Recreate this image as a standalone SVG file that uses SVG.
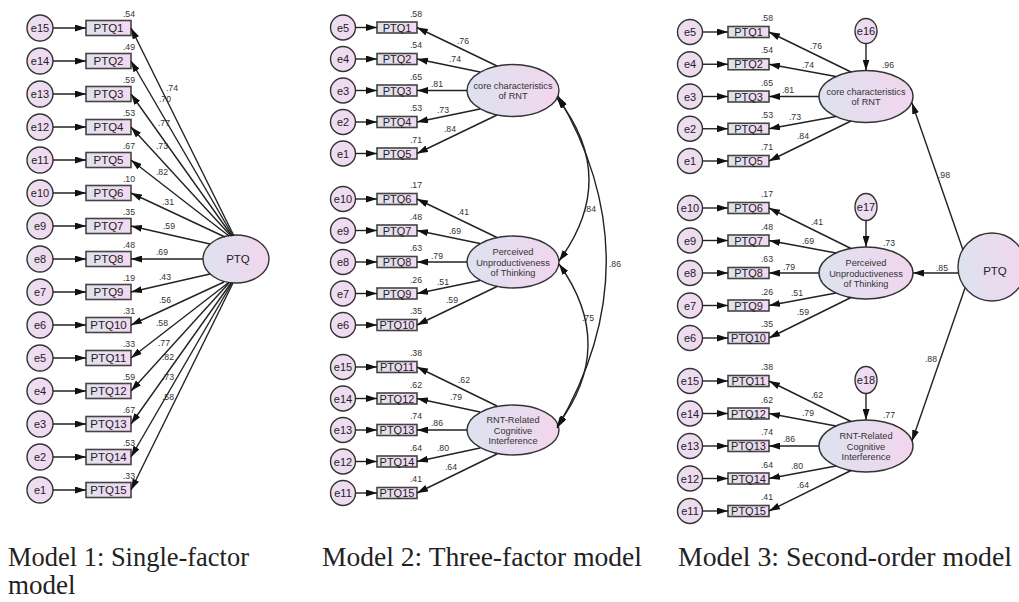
<svg xmlns="http://www.w3.org/2000/svg" width="1019" height="602" viewBox="0 0 1019 602">
<defs>
<linearGradient id="gbox" x1="0" y1="0" x2="1" y2="0"><stop offset="0" stop-color="#dfe2ee"/><stop offset="1" stop-color="#f4d8f1"/></linearGradient>
<linearGradient id="gell" x1="0" y1="0" x2="1" y2="0"><stop offset="0" stop-color="#dde2ef"/><stop offset="1" stop-color="#f2d6ee"/></linearGradient>
<linearGradient id="gcir" x1="0" y1="0" x2="1" y2="0"><stop offset="0" stop-color="#e9e0f2"/><stop offset="1" stop-color="#f2d8ef"/></linearGradient>
<marker id="ah" viewBox="0 0 11 7" refX="11" refY="3.5" markerWidth="11" markerHeight="7" markerUnits="userSpaceOnUse" orient="auto-start-reverse"><path d="M0,0 L11,3.5 L0,7 z" fill="#111"/></marker>
<style>
.c{fill:url(#gcir);stroke:#333;stroke-width:1.4}
.b{fill:url(#gbox);stroke:#444;stroke-width:1.6}
.el{fill:url(#gell);stroke:#333;stroke-width:1.4}
.tb{font-family:"Liberation Sans",Arial,sans-serif;fill:#222;text-anchor:middle;font-size:11.5px}
.te{font-family:"Liberation Sans",Arial,sans-serif;fill:#222;text-anchor:middle;font-size:11px}
.tl{font-family:"Liberation Sans",Arial,sans-serif;fill:#333;text-anchor:middle;font-size:9.2px}
.n{font-family:"Liberation Sans",Arial,sans-serif;fill:#333;text-anchor:middle;font-size:8.7px}
.r{font-family:"Liberation Sans",Arial,sans-serif;fill:#333;text-anchor:end;font-size:8.7px}
.cap{font-family:"Liberation Serif","Times New Roman",serif;fill:#222;font-size:27px}
.ln{stroke:#222;stroke-width:1.4;fill:none;marker-end:url(#ah)}
.dl{stroke:#222;stroke-width:1.4;fill:none;marker-end:url(#ah);marker-start:url(#ah)}
</style>
</defs>
<rect width="1019" height="602" fill="#fff"/>

<!-- ================= Model 1 ================= -->
<g id="m1-e15"><circle class="c" cx="40" cy="28" r="13"/><text class="te" x="40" y="32">e15</text></g>
<g id="m1-e14"><circle class="c" cx="40" cy="61" r="13"/><text class="te" x="40" y="65">e14</text></g>
<g id="m1-e13"><circle class="c" cx="40" cy="94" r="13"/><text class="te" x="40" y="98">e13</text></g>
<g id="m1-e12"><circle class="c" cx="40" cy="127" r="13"/><text class="te" x="40" y="131">e12</text></g>
<g id="m1-e11"><circle class="c" cx="40" cy="160" r="13"/><text class="te" x="40" y="164">e11</text></g>
<g id="m1-e10"><circle class="c" cx="40" cy="193" r="13"/><text class="te" x="40" y="197">e10</text></g>
<g id="m1-e9"><circle class="c" cx="40" cy="226" r="13"/><text class="te" x="40" y="230">e9</text></g>
<g id="m1-e8"><circle class="c" cx="40" cy="259" r="13"/><text class="te" x="40" y="263">e8</text></g>
<g id="m1-e7"><circle class="c" cx="40" cy="292" r="13"/><text class="te" x="40" y="296">e7</text></g>
<g id="m1-e6"><circle class="c" cx="40" cy="325" r="13"/><text class="te" x="40" y="329">e6</text></g>
<g id="m1-e5"><circle class="c" cx="40" cy="358" r="13"/><text class="te" x="40" y="362">e5</text></g>
<g id="m1-e4"><circle class="c" cx="40" cy="391" r="13"/><text class="te" x="40" y="395">e4</text></g>
<g id="m1-e3"><circle class="c" cx="40" cy="424" r="13"/><text class="te" x="40" y="428">e3</text></g>
<g id="m1-e2"><circle class="c" cx="40" cy="457" r="13"/><text class="te" x="40" y="461">e2</text></g>
<g id="m1-e1"><circle class="c" cx="40" cy="490" r="13"/><text class="te" x="40" y="494">e1</text></g>

<g id="m1-ptq1"><rect class="b" x="86" y="20.5" width="45" height="15"/><text class="tb" x="108.5" y="32">PTQ1</text><text class="r" x="135" y="16.5">.54</text></g>
<g id="m1-ptq2"><rect class="b" x="86" y="53.5" width="45" height="15"/><text class="tb" x="108.5" y="65">PTQ2</text><text class="r" x="135" y="49.5">.49</text></g>
<g id="m1-ptq3"><rect class="b" x="86" y="86.5" width="45" height="15"/><text class="tb" x="108.5" y="98">PTQ3</text><text class="r" x="135" y="82.5">.59</text></g>
<g id="m1-ptq4"><rect class="b" x="86" y="119.5" width="45" height="15"/><text class="tb" x="108.5" y="131">PTQ4</text><text class="r" x="135" y="115.5">.53</text></g>
<g id="m1-ptq5"><rect class="b" x="86" y="152.5" width="45" height="15"/><text class="tb" x="108.5" y="164">PTQ5</text><text class="r" x="135" y="148.5">.67</text></g>
<g id="m1-ptq6"><rect class="b" x="86" y="185.5" width="45" height="15"/><text class="tb" x="108.5" y="197">PTQ6</text><text class="r" x="135" y="181.5">.10</text></g>
<g id="m1-ptq7"><rect class="b" x="86" y="218.5" width="45" height="15"/><text class="tb" x="108.5" y="230">PTQ7</text><text class="r" x="135" y="214.5">.35</text></g>
<g id="m1-ptq8"><rect class="b" x="86" y="251.5" width="45" height="15"/><text class="tb" x="108.5" y="263">PTQ8</text><text class="r" x="135" y="247.5">.48</text></g>
<g id="m1-ptq9"><rect class="b" x="86" y="284.5" width="45" height="15"/><text class="tb" x="108.5" y="296">PTQ9</text><text class="r" x="135" y="280.5">.19</text></g>
<g id="m1-ptq10"><rect class="b" x="86" y="317.5" width="45" height="15"/><text class="tb" x="108.5" y="329">PTQ10</text><text class="r" x="135" y="313.5">.31</text></g>
<g id="m1-ptq11"><rect class="b" x="86" y="350.5" width="45" height="15"/><text class="tb" x="108.5" y="362">PTQ11</text><text class="r" x="135" y="346.5">.33</text></g>
<g id="m1-ptq12"><rect class="b" x="86" y="383.5" width="45" height="15"/><text class="tb" x="108.5" y="395">PTQ12</text><text class="r" x="135" y="379.5">.59</text></g>
<g id="m1-ptq13"><rect class="b" x="86" y="416.5" width="45" height="15"/><text class="tb" x="108.5" y="428">PTQ13</text><text class="r" x="135" y="412.5">.67</text></g>
<g id="m1-ptq14"><rect class="b" x="86" y="449.5" width="45" height="15"/><text class="tb" x="108.5" y="461">PTQ14</text><text class="r" x="135" y="445.5">.53</text></g>
<g id="m1-ptq15"><rect class="b" x="86" y="482.5" width="45" height="15"/><text class="tb" x="108.5" y="494">PTQ15</text><text class="r" x="135" y="478.5">.33</text></g>

<g id="m1-PTQ"><ellipse class="el" cx="236" cy="259" rx="33" ry="24"/><text class="tb" x="238" y="263">PTQ</text></g>

<!-- ================= Model 2 ================= -->
<g id="m2-e5"><circle class="c" cx="343" cy="27.5" r="12.5"/><text class="te" x="343" y="31.5">e5</text></g>
<g id="m2-e4"><circle class="c" cx="343" cy="59" r="12.5"/><text class="te" x="343" y="63">e4</text></g>
<g id="m2-e3"><circle class="c" cx="343" cy="90.5" r="12.5"/><text class="te" x="343" y="94.5">e3</text></g>
<g id="m2-e2"><circle class="c" cx="343" cy="122" r="12.5"/><text class="te" x="343" y="126">e2</text></g>
<g id="m2-e1"><circle class="c" cx="343" cy="153.5" r="12.5"/><text class="te" x="343" y="157.5">e1</text></g>
<g id="m2-e10"><circle class="c" cx="343" cy="199" r="12.5"/><text class="te" x="343" y="203">e10</text></g>
<g id="m2-e9"><circle class="c" cx="343" cy="230.5" r="12.5"/><text class="te" x="343" y="234.5">e9</text></g>
<g id="m2-e8"><circle class="c" cx="343" cy="262" r="12.5"/><text class="te" x="343" y="266">e8</text></g>
<g id="m2-e7"><circle class="c" cx="343" cy="293.5" r="12.5"/><text class="te" x="343" y="297.5">e7</text></g>
<g id="m2-e6"><circle class="c" cx="343" cy="325" r="12.5"/><text class="te" x="343" y="329">e6</text></g>
<g id="m2-e15"><circle class="c" cx="343" cy="367" r="12.5"/><text class="te" x="343" y="371">e15</text></g>
<g id="m2-e14"><circle class="c" cx="343" cy="398.5" r="12.5"/><text class="te" x="343" y="402.5">e14</text></g>
<g id="m2-e13"><circle class="c" cx="343" cy="430" r="12.5"/><text class="te" x="343" y="434">e13</text></g>
<g id="m2-e12"><circle class="c" cx="343" cy="461.5" r="12.5"/><text class="te" x="343" y="465.5">e12</text></g>
<g id="m2-e11"><circle class="c" cx="343" cy="493" r="12.5"/><text class="te" x="343" y="497">e11</text></g>

<g id="m2-ptq1"><rect class="b" x="377" y="22" width="40" height="11"/><text class="te" x="397" y="31.5">PTQ1</text><text class="r" x="422" y="16.5">.58</text></g>
<g id="m2-ptq2"><rect class="b" x="377" y="53.5" width="40" height="11"/><text class="te" x="397" y="63">PTQ2</text><text class="r" x="422" y="48">.54</text></g>
<g id="m2-ptq3"><rect class="b" x="377" y="85" width="40" height="11"/><text class="te" x="397" y="94.5">PTQ3</text><text class="r" x="422" y="79.5">.65</text></g>
<g id="m2-ptq4"><rect class="b" x="377" y="116.5" width="40" height="11"/><text class="te" x="397" y="126">PTQ4</text><text class="r" x="422" y="111">.53</text></g>
<g id="m2-ptq5"><rect class="b" x="377" y="148" width="40" height="11"/><text class="te" x="397" y="157.5">PTQ5</text><text class="r" x="422" y="142.5">.71</text></g>
<g id="m2-ptq6"><rect class="b" x="377" y="193.5" width="40" height="11"/><text class="te" x="397" y="203">PTQ6</text><text class="r" x="422" y="188">.17</text></g>
<g id="m2-ptq7"><rect class="b" x="377" y="225" width="40" height="11"/><text class="te" x="397" y="234.5">PTQ7</text><text class="r" x="422" y="219.5">.48</text></g>
<g id="m2-ptq8"><rect class="b" x="377" y="256.5" width="40" height="11"/><text class="te" x="397" y="266">PTQ8</text><text class="r" x="422" y="251">.63</text></g>
<g id="m2-ptq9"><rect class="b" x="377" y="288" width="40" height="11"/><text class="te" x="397" y="297.5">PTQ9</text><text class="r" x="422" y="282.5">.26</text></g>
<g id="m2-ptq10"><rect class="b" x="377" y="319.5" width="40" height="11"/><text class="te" x="397" y="329">PTQ10</text><text class="r" x="422" y="314">.35</text></g>
<g id="m2-ptq11"><rect class="b" x="377" y="361.5" width="40" height="11"/><text class="te" x="397" y="371">PTQ11</text><text class="r" x="422" y="356">.38</text></g>
<g id="m2-ptq12"><rect class="b" x="377" y="393" width="40" height="11"/><text class="te" x="397" y="402.5">PTQ12</text><text class="r" x="422" y="387.5">.62</text></g>
<g id="m2-ptq13"><rect class="b" x="377" y="424.5" width="40" height="11"/><text class="te" x="397" y="434">PTQ13</text><text class="r" x="422" y="419">.74</text></g>
<g id="m2-ptq14"><rect class="b" x="377" y="456" width="40" height="11"/><text class="te" x="397" y="465.5">PTQ14</text><text class="r" x="422" y="450.5">.64</text></g>
<g id="m2-ptq15"><rect class="b" x="377" y="487.5" width="40" height="11"/><text class="te" x="397" y="497">PTQ15</text><text class="r" x="422" y="482">.41</text></g>

<g id="m2-core"><ellipse class="el" cx="513" cy="90.5" rx="46" ry="26"/><text class="tl" x="513" y="88.5">core characteristics</text><text class="tl" x="513" y="99">of RNT</text></g>
<g id="m2-perceived"><ellipse class="el" cx="513" cy="262" rx="46" ry="26"/><text class="tl" x="513" y="255">Perceived</text><text class="tl" x="513" y="265.5">Unproductiveness</text><text class="tl" x="513" y="276">of Thinking</text></g>
<g id="m2-rnt"><ellipse class="el" cx="513" cy="430" rx="46" ry="25"/><text class="tl" x="513" y="423">RNT-Related</text><text class="tl" x="513" y="433.5">Cognitive</text><text class="tl" x="513" y="444">Interference</text></g>

<!-- ================= Model 3 ================= -->
<g id="m3-e5"><circle class="c" cx="690" cy="32" r="12.5"/><text class="te" x="690" y="36">e5</text></g>
<g id="m3-e4"><circle class="c" cx="690" cy="64.25" r="12.5"/><text class="te" x="690" y="68.25">e4</text></g>
<g id="m3-e3"><circle class="c" cx="690" cy="96.5" r="12.5"/><text class="te" x="690" y="100.5">e3</text></g>
<g id="m3-e2"><circle class="c" cx="690" cy="128.75" r="12.5"/><text class="te" x="690" y="132.75">e2</text></g>
<g id="m3-e1"><circle class="c" cx="690" cy="161" r="12.5"/><text class="te" x="690" y="165">e1</text></g>
<g id="m3-e10"><circle class="c" cx="690" cy="208" r="12.5"/><text class="te" x="690" y="212">e10</text></g>
<g id="m3-e9"><circle class="c" cx="690" cy="240.5" r="12.5"/><text class="te" x="690" y="244.5">e9</text></g>
<g id="m3-e8"><circle class="c" cx="690" cy="273" r="12.5"/><text class="te" x="690" y="277">e8</text></g>
<g id="m3-e7"><circle class="c" cx="690" cy="305.5" r="12.5"/><text class="te" x="690" y="309.5">e7</text></g>
<g id="m3-e6"><circle class="c" cx="690" cy="338" r="12.5"/><text class="te" x="690" y="342">e6</text></g>
<g id="m3-e15"><circle class="c" cx="690" cy="381" r="12.5"/><text class="te" x="690" y="385">e15</text></g>
<g id="m3-e14"><circle class="c" cx="690" cy="413.5" r="12.5"/><text class="te" x="690" y="417.5">e14</text></g>
<g id="m3-e13"><circle class="c" cx="690" cy="446" r="12.5"/><text class="te" x="690" y="450">e13</text></g>
<g id="m3-e12"><circle class="c" cx="690" cy="478.5" r="12.5"/><text class="te" x="690" y="482.5">e12</text></g>
<g id="m3-e11"><circle class="c" cx="690" cy="511" r="12.5"/><text class="te" x="690" y="515">e11</text></g>

<g id="m3-ptq1"><rect class="b" x="728" y="26.5" width="41" height="11"/><text class="te" x="748.5" y="36">PTQ1</text><text class="r" x="773" y="21">.58</text></g>
<g id="m3-ptq2"><rect class="b" x="728" y="58.75" width="41" height="11"/><text class="te" x="748.5" y="68.25">PTQ2</text><text class="r" x="773" y="53.25">.54</text></g>
<g id="m3-ptq3"><rect class="b" x="728" y="91" width="41" height="11"/><text class="te" x="748.5" y="100.5">PTQ3</text><text class="r" x="773" y="85.5">.65</text></g>
<g id="m3-ptq4"><rect class="b" x="728" y="123.25" width="41" height="11"/><text class="te" x="748.5" y="132.75">PTQ4</text><text class="r" x="773" y="117.75">.53</text></g>
<g id="m3-ptq5"><rect class="b" x="728" y="155.5" width="41" height="11"/><text class="te" x="748.5" y="165">PTQ5</text><text class="r" x="773" y="150">.71</text></g>
<g id="m3-ptq6"><rect class="b" x="728" y="202.5" width="41" height="11"/><text class="te" x="748.5" y="212">PTQ6</text><text class="r" x="773" y="197">.17</text></g>
<g id="m3-ptq7"><rect class="b" x="728" y="235" width="41" height="11"/><text class="te" x="748.5" y="244.5">PTQ7</text><text class="r" x="773" y="229.5">.48</text></g>
<g id="m3-ptq8"><rect class="b" x="728" y="267.5" width="41" height="11"/><text class="te" x="748.5" y="277">PTQ8</text><text class="r" x="773" y="262">.63</text></g>
<g id="m3-ptq9"><rect class="b" x="728" y="300" width="41" height="11"/><text class="te" x="748.5" y="309.5">PTQ9</text><text class="r" x="773" y="294.5">.26</text></g>
<g id="m3-ptq10"><rect class="b" x="728" y="332.5" width="41" height="11"/><text class="te" x="748.5" y="342">PTQ10</text><text class="r" x="773" y="327">.35</text></g>
<g id="m3-ptq11"><rect class="b" x="728" y="375.5" width="41" height="11"/><text class="te" x="748.5" y="385">PTQ11</text><text class="r" x="773" y="370">.38</text></g>
<g id="m3-ptq12"><rect class="b" x="728" y="408" width="41" height="11"/><text class="te" x="748.5" y="417.5">PTQ12</text><text class="r" x="773" y="402.5">.62</text></g>
<g id="m3-ptq13"><rect class="b" x="728" y="440.5" width="41" height="11"/><text class="te" x="748.5" y="450">PTQ13</text><text class="r" x="773" y="435">.74</text></g>
<g id="m3-ptq14"><rect class="b" x="728" y="473" width="41" height="11"/><text class="te" x="748.5" y="482.5">PTQ14</text><text class="r" x="773" y="467.5">.64</text></g>
<g id="m3-ptq15"><rect class="b" x="728" y="505.5" width="41" height="11"/><text class="te" x="748.5" y="515">PTQ15</text><text class="r" x="773" y="500">.41</text></g>

<g id="m3-core"><ellipse class="el" cx="866" cy="96.5" rx="47" ry="26"/><text class="tl" x="866" y="94.5">core characteristics</text><text class="tl" x="866" y="105">of RNT</text><text class="n" x="888" y="68">.96</text></g>
<g id="m3-perceived"><ellipse class="el" cx="866" cy="273" rx="47" ry="26"/><text class="tl" x="866" y="266">Perceived</text><text class="tl" x="866" y="276.5">Unproductiveness</text><text class="tl" x="866" y="287">of Thinking</text><text class="n" x="889" y="246">.73</text></g>
<g id="m3-rnt"><ellipse class="el" cx="866" cy="446" rx="47" ry="26"/><text class="tl" x="866" y="439">RNT-Related</text><text class="tl" x="866" y="449.5">Cognitive</text><text class="tl" x="866" y="460">Interference</text><text class="n" x="889" y="418">.77</text></g>
<g id="m3-e16"><ellipse class="c" cx="866" cy="31" rx="11" ry="12.5"/><text class="te" x="866" y="35">e16</text></g>
<g id="m3-e17"><ellipse class="c" cx="866" cy="207" rx="11" ry="13.5"/><text class="te" x="866" y="211">e17</text></g>
<g id="m3-e18"><ellipse class="c" cx="866" cy="380" rx="11" ry="13.5"/><text class="te" x="866" y="384">e18</text></g>
<g id="m3-PTQ"><ellipse class="el" cx="992" cy="267" rx="34" ry="34"/><text class="tb" x="995" y="275">PTQ</text></g>

<!-- ================= Connectors ================= -->
<g id="connectors">
<line class="ln" x1="53" y1="28" x2="86" y2="28"/><line class="ln" x1="53" y1="61" x2="86" y2="61"/>
<line class="ln" x1="53" y1="94" x2="86" y2="94"/><line class="ln" x1="53" y1="127" x2="86" y2="127"/>
<line class="ln" x1="53" y1="160" x2="86" y2="160"/><line class="ln" x1="53" y1="193" x2="86" y2="193"/>
<line class="ln" x1="53" y1="226" x2="86" y2="226"/><line class="ln" x1="53" y1="259" x2="86" y2="259"/>
<line class="ln" x1="53" y1="292" x2="86" y2="292"/><line class="ln" x1="53" y1="325" x2="86" y2="325"/>
<line class="ln" x1="53" y1="358" x2="86" y2="358"/><line class="ln" x1="53" y1="391" x2="86" y2="391"/>
<line class="ln" x1="53" y1="424" x2="86" y2="424"/><line class="ln" x1="53" y1="457" x2="86" y2="457"/>
<line class="ln" x1="53" y1="490" x2="86" y2="490"/>
<line class="ln" x1="234" y1="236" x2="131" y2="28"/>
<line class="ln" x1="233" y1="236" x2="131" y2="61"/>
<line class="ln" x1="232" y1="236" x2="131" y2="94"/>
<line class="ln" x1="231" y1="236" x2="131" y2="127"/>
<line class="ln" x1="229" y1="236" x2="131" y2="160"/>
<line class="ln" x1="225" y1="237" x2="131" y2="193"/>
<line class="ln" x1="210" y1="244" x2="131" y2="226"/>
<line class="ln" x1="203" y1="259" x2="131" y2="259"/>
<line class="ln" x1="210" y1="274" x2="131" y2="292"/>
<line class="ln" x1="224" y1="282" x2="131" y2="325"/>
<line class="ln" x1="228" y1="283" x2="131" y2="358"/>
<line class="ln" x1="229" y1="283" x2="131" y2="391"/>
<line class="ln" x1="231" y1="283" x2="131" y2="424"/>
<line class="ln" x1="232" y1="283" x2="131" y2="457"/>
<line class="ln" x1="233" y1="283" x2="131" y2="490"/>
<text class="n" x="172" y="91">.74</text><text class="n" x="165" y="102">.70</text>
<text class="n" x="164" y="126">.77</text><text class="n" x="162" y="149">.73</text>
<text class="n" x="162" y="175">.82</text><text class="n" x="168" y="205">.31</text>
<text class="n" x="169" y="229">.59</text><text class="n" x="162" y="255">.69</text>
<text class="n" x="165" y="280">.43</text><text class="n" x="165" y="303">.56</text>
<text class="n" x="162" y="326">.58</text><text class="n" x="164" y="346">.77</text>
<text class="n" x="168" y="360">.82</text><text class="n" x="168" y="380">.73</text>
<text class="n" x="168" y="400">.58</text>

<line class="ln" x1="355.5" y1="27.5" x2="377" y2="27.5"/><line class="ln" x1="355.5" y1="59" x2="377" y2="59"/>
<line class="ln" x1="355.5" y1="90.5" x2="377" y2="90.5"/><line class="ln" x1="355.5" y1="122" x2="377" y2="122"/>
<line class="ln" x1="355.5" y1="153.5" x2="377" y2="153.5"/>
<line class="ln" x1="355.5" y1="199" x2="377" y2="199"/><line class="ln" x1="355.5" y1="230.5" x2="377" y2="230.5"/>
<line class="ln" x1="355.5" y1="262" x2="377" y2="262"/><line class="ln" x1="355.5" y1="293.5" x2="377" y2="293.5"/>
<line class="ln" x1="355.5" y1="325" x2="377" y2="325"/>
<line class="ln" x1="355.5" y1="367" x2="377" y2="367"/><line class="ln" x1="355.5" y1="398.5" x2="377" y2="398.5"/>
<line class="ln" x1="355.5" y1="430" x2="377" y2="430"/><line class="ln" x1="355.5" y1="461.5" x2="377" y2="461.5"/>
<line class="ln" x1="355.5" y1="493" x2="377" y2="493"/>
<line class="ln" x1="497" y1="66" x2="417" y2="27.5"/>
<line class="ln" x1="480" y1="72" x2="417" y2="59"/>
<line class="ln" x1="467" y1="90.5" x2="417" y2="90.5"/>
<line class="ln" x1="480" y1="109" x2="417" y2="122"/>
<line class="ln" x1="497" y1="115" x2="417" y2="153.5"/>
<line class="ln" x1="497" y1="237.5" x2="417" y2="199"/>
<line class="ln" x1="480" y1="243.5" x2="417" y2="230.5"/>
<line class="ln" x1="467" y1="262" x2="417" y2="262"/>
<line class="ln" x1="480" y1="280.5" x2="417" y2="293.5"/>
<line class="ln" x1="497" y1="286.5" x2="417" y2="325"/>
<line class="ln" x1="497" y1="406" x2="417" y2="367"/>
<line class="ln" x1="480" y1="412" x2="417" y2="398.5"/>
<line class="ln" x1="467" y1="430" x2="417" y2="430"/>
<line class="ln" x1="480" y1="448" x2="417" y2="461.5"/>
<line class="ln" x1="497" y1="454" x2="417" y2="493"/>
<text class="n" x="463" y="43.5">.76</text><text class="n" x="455" y="61.5">.74</text>
<text class="n" x="437" y="86.5">.81</text><text class="n" x="443" y="112.5">.73</text>
<text class="n" x="450" y="131.5">.84</text>
<text class="n" x="463" y="215">.41</text><text class="n" x="455" y="234">.69</text>
<text class="n" x="437" y="259">.79</text><text class="n" x="443" y="285">.51</text>
<text class="n" x="452" y="303">.59</text>
<text class="n" x="464" y="383">.62</text><text class="n" x="456" y="400">.79</text>
<text class="n" x="437" y="426">.86</text><text class="n" x="443" y="451">.80</text>
<text class="n" x="451" y="470">.64</text>
<path class="dl" d="M557,98 Q620,178 559,261"/>
<path class="dl" d="M559,264 Q618,346 557,426"/>
<path class="dl" d="M558,96 Q655,262 557,428"/>
<text class="n" x="590" y="212">.84</text>
<text class="n" x="615" y="267">.86</text>
<text class="n" x="588" y="321">.75</text>

<line class="ln" x1="702.5" y1="32" x2="728" y2="32"/><line class="ln" x1="702.5" y1="64.25" x2="728" y2="64.25"/>
<line class="ln" x1="702.5" y1="96.5" x2="728" y2="96.5"/><line class="ln" x1="702.5" y1="128.75" x2="728" y2="128.75"/>
<line class="ln" x1="702.5" y1="161" x2="728" y2="161"/>
<line class="ln" x1="702.5" y1="208" x2="728" y2="208"/><line class="ln" x1="702.5" y1="240.5" x2="728" y2="240.5"/>
<line class="ln" x1="702.5" y1="273" x2="728" y2="273"/><line class="ln" x1="702.5" y1="305.5" x2="728" y2="305.5"/>
<line class="ln" x1="702.5" y1="338" x2="728" y2="338"/>
<line class="ln" x1="702.5" y1="381" x2="728" y2="381"/><line class="ln" x1="702.5" y1="413.5" x2="728" y2="413.5"/>
<line class="ln" x1="702.5" y1="446" x2="728" y2="446"/><line class="ln" x1="702.5" y1="478.5" x2="728" y2="478.5"/>
<line class="ln" x1="702.5" y1="511" x2="728" y2="511"/>
<line class="ln" x1="866" y1="43.5" x2="866" y2="70.5"/>
<line class="ln" x1="866" y1="220.5" x2="866" y2="247"/>
<line class="ln" x1="866" y1="393.5" x2="866" y2="420"/>
<line class="ln" x1="851" y1="72" x2="769" y2="32"/>
<line class="ln" x1="836" y1="76.5" x2="769" y2="64.25"/>
<line class="ln" x1="819" y1="96.5" x2="769" y2="96.5"/>
<line class="ln" x1="836" y1="116.5" x2="769" y2="128.75"/>
<line class="ln" x1="851" y1="121" x2="769" y2="161"/>
<line class="ln" x1="851" y1="248.5" x2="769" y2="208"/>
<line class="ln" x1="836" y1="253" x2="769" y2="240.5"/>
<line class="ln" x1="819" y1="273" x2="769" y2="273"/>
<line class="ln" x1="836" y1="293" x2="769" y2="305.5"/>
<line class="ln" x1="851" y1="297.5" x2="769" y2="338"/>
<line class="ln" x1="851" y1="421.5" x2="769" y2="381"/>
<line class="ln" x1="836" y1="426" x2="769" y2="413.5"/>
<line class="ln" x1="819" y1="446" x2="769" y2="446"/>
<line class="ln" x1="836" y1="466" x2="769" y2="478.5"/>
<line class="ln" x1="851" y1="470.5" x2="769" y2="511"/>
<text class="n" x="816" y="48.5">.76</text><text class="n" x="808" y="67.5">.74</text>
<text class="n" x="788" y="92.5">.81</text><text class="n" x="795" y="119.5">.73</text>
<text class="n" x="803" y="138.5">.84</text>
<text class="n" x="817" y="225">.41</text><text class="n" x="808" y="244">.69</text>
<text class="n" x="789" y="270">.79</text><text class="n" x="797" y="296">.51</text>
<text class="n" x="803" y="315">.59</text>
<text class="n" x="817" y="398">.62</text><text class="n" x="808" y="416">.79</text>
<text class="n" x="789" y="442">.86</text><text class="n" x="797" y="469">.80</text>
<text class="n" x="803" y="488">.64</text>
<line class="ln" x1="963" y1="250" x2="912" y2="103"/>
<line class="ln" x1="958" y1="273" x2="913" y2="273"/>
<line class="ln" x1="965" y1="288" x2="912" y2="441"/>
<text class="n" x="944" y="178">.98</text>
<text class="n" x="942" y="271">.85</text>
<text class="n" x="931" y="362">.88</text>
</g>

<g id="captions">
<text class="cap" x="8" y="566" textLength="241" lengthAdjust="spacingAndGlyphs">Model 1: Single-factor</text>
<text class="cap" x="8" y="594">model</text>
<text class="cap" x="322" y="566" textLength="320" lengthAdjust="spacingAndGlyphs">Model 2: Three-factor model</text>
<text class="cap" x="678" y="566" textLength="334" lengthAdjust="spacingAndGlyphs">Model 3: Second-order model</text>
</g>
</svg>
